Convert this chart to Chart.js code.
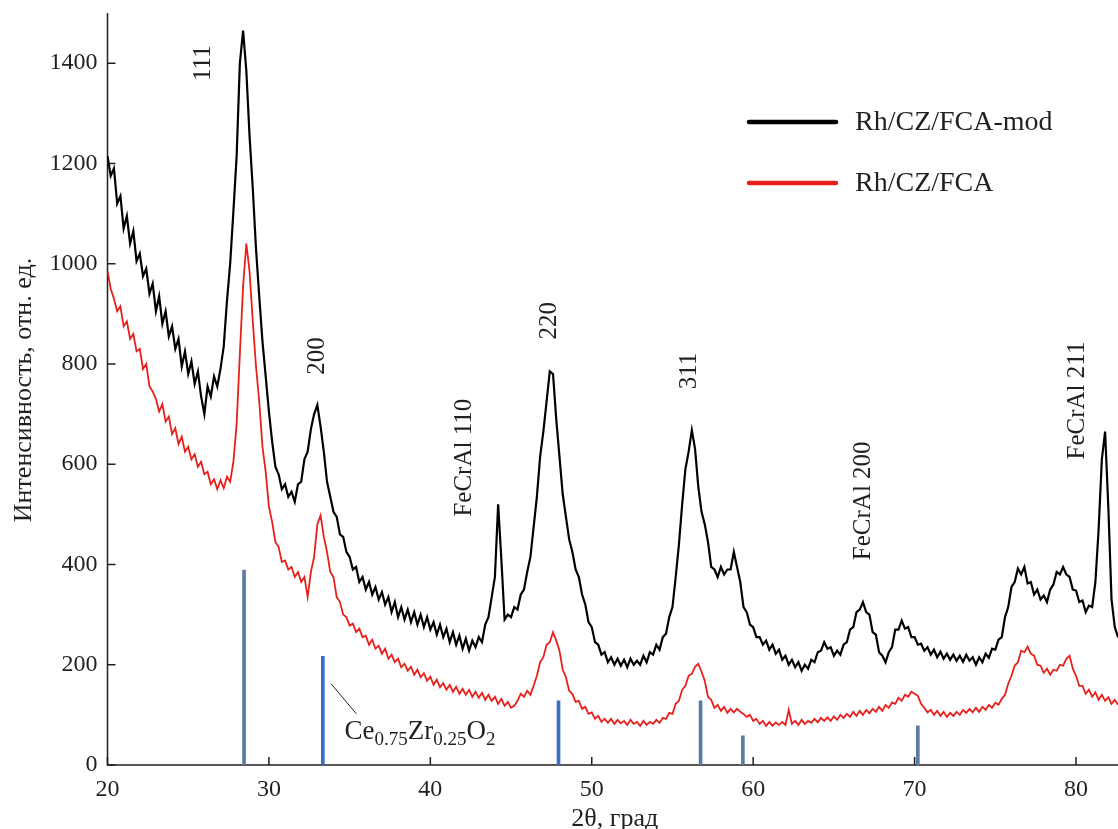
<!DOCTYPE html>
<html>
<head>
<meta charset="utf-8">
<title>XRD Rh/CZ/FCA</title>
<script src="https://cdn.jsdelivr.net/npm/chart.js@4.4.1/dist/chart.umd.min.js"></script>
<style>
  html, body { margin: 0; padding: 0; background: #fff; }
  #wrap { width: 1118px; height: 829px; }
</style>
</head>
<body>
<div id="wrap"><canvas id="xrdChart" width="1118" height="829"></canvas></div>
<script>
// 2θ grid of the digitised patterns (degrees)
const thetaStart = 20;
const thetaStep = 0.2;

// Rh/CZ/FCA-mod intensity, one value per 0.2 deg from 20.0 to 82.6
const modCounts = [
  1215, 1175, 1190, 1120, 1135, 1070, 1095, 1040, 1065, 1005,
  1020, 975, 990, 940, 960, 905, 935, 880, 905, 855,
  875, 830, 850, 795, 825, 780, 805, 760, 785, 735,
  700, 755, 735, 775, 755, 790, 835, 925, 1000, 1105,
  1215, 1400, 1465, 1385, 1255, 1150, 1030, 935, 845, 775,
  705, 645, 595, 580, 550, 560, 535, 545, 525, 560,
  565, 610, 625, 670, 700, 718, 675, 625, 565, 535,
  505, 495, 460, 455, 425, 415, 390, 395, 365, 375,
  350, 365, 340, 355, 330, 345, 320, 335, 305, 325,
  295, 315, 290, 310, 285, 305, 280, 300, 275, 295,
  270, 285, 260, 280, 255, 272, 245, 265, 240, 258,
  232, 252, 228, 248, 235, 255, 245, 280, 295, 335,
  375, 520, 410, 290, 300, 295, 315, 310, 340, 350,
  385, 415, 475, 535, 615, 665, 725, 785, 780, 690,
  615, 540, 495, 450, 425, 390, 375, 340, 320, 285,
  275, 245, 240, 220, 225, 205, 215, 200, 212, 198,
  210, 195, 212, 200, 208, 200, 218, 205, 225, 220,
  240, 230, 255, 262, 295, 315, 375, 440, 520, 590,
  625, 668, 630, 555, 505, 480, 445, 395, 390, 375,
  395, 380, 390, 390, 425, 395, 365, 315, 305, 280,
  275, 255, 255, 240, 248, 230, 240, 222, 230, 210,
  218, 200, 210, 195, 205, 188, 200, 192, 210, 205,
  225, 228, 245, 232, 235, 218, 228, 220, 240, 245,
  270, 275, 305, 310, 325, 305, 300, 265, 260, 225,
  218, 205, 225, 235, 270, 270, 288, 272, 275, 255,
  255, 240, 242, 228, 235, 220, 230, 215, 226, 212,
  222, 210, 220, 208, 218, 206, 220, 208, 215, 200,
  215, 205, 222, 214, 232, 230, 250, 255, 295, 315,
  355, 365, 392, 380, 395, 362, 365, 340, 350, 330,
  338, 325, 350, 360, 385, 380, 395, 380, 375, 350,
  348, 325, 328, 305, 318, 315, 365, 470, 610, 665,
  515, 330, 275, 255
];

// Rh/CZ/FCA intensity, same grid
const baseCounts = [
  985, 950, 930, 905, 915, 875, 885, 850, 860, 825,
  830, 790, 800, 755, 745, 730, 705, 720, 685, 695,
  660, 672, 640, 655, 625, 635, 610, 620, 595, 605,
  580, 585, 560, 570, 550, 568, 552, 575, 565, 605,
  680, 820, 955, 1040, 985, 885, 795, 725, 635, 585,
  515, 485, 445, 435, 405, 408, 390, 395, 375, 385,
  365, 375, 335, 385, 415, 480, 498, 455, 425, 385,
  375, 335, 325, 300, 295, 278, 282, 265, 272, 255,
  258, 240, 250, 232, 238, 222, 232, 212, 220, 205,
  212, 195, 202, 188, 196, 180, 190, 175, 183, 168,
  176, 160, 170, 155, 163, 150, 160, 146, 156, 142,
  152, 140, 150, 136, 146, 134, 144, 130, 140, 128,
  136, 122, 132, 118, 126, 114, 118, 128, 142, 136,
  148, 140, 158, 178, 205, 215, 240, 245, 265, 248,
  228, 190, 175, 148, 142, 126, 128, 112, 116, 102,
  105, 92, 98, 86, 92, 84, 92, 82, 90, 83,
  88, 80, 90, 82, 86, 78, 88, 80, 86, 82,
  90, 84, 94, 92, 104, 102, 122, 128, 150, 158,
  178, 182, 196, 202, 186, 168, 136, 130, 114, 120,
  108, 116, 104, 112, 105, 112, 106, 102, 96, 100,
  88, 92, 82, 88, 78, 86, 78, 85, 80, 86,
  80, 110, 82, 88, 80, 90, 82, 88, 84, 92,
  85, 94, 88, 95, 88, 97, 90, 100, 94, 102,
  96, 106, 98, 108, 100, 110, 103, 112, 106, 116,
  108, 120, 114, 125, 122, 134, 128, 140, 136, 146,
  142, 138, 122, 114, 105, 110, 100, 108, 98, 106,
  96, 104, 98, 106, 100, 110, 104, 112, 105, 114,
  106, 116, 110, 120, 114, 124, 120, 132, 140, 162,
  178, 198, 205, 228, 225, 236, 222, 218, 200, 198,
  184, 192, 180, 190, 188, 200, 198, 212, 218, 192,
  178, 158, 158, 142, 150, 136, 145, 130, 140, 128,
  135, 122, 130, 120
];

// Ce0.75Zr0.25O2 reference lines
const refPositions = [28.46, 33.34, 47.94, 56.74, 59.36, 70.2];
const refHeights = [389, 217, 128, 128, 58, 78];

// peak labels (angle, intensity of label centre)
const peakNames = ['111', '200', 'FeCrAl 110', '220', '311', 'FeCrAl 200', 'FeCrAl 211'];
const peakNameX = [25.95, 33.0, 42.1, 47.4, 56.06, 66.84, 80.1];
const peakNameY = [1400, 816, 613, 886, 786, 527, 727];

// axis ticks
const xTicks = [20, 30, 40, 50, 60, 70, 80];
const yTicks = [0, 200, 400, 600, 800, 1000, 1200, 1400];

const seriesNames = ['Rh/CZ/FCA-mod', 'Rh/CZ/FCA'];

const INK = '#231f20';
const SERIF = '"Liberation Serif", "Times New Roman", serif';

function toPoints(counts) {
    return counts.map((v, i) => ({ x: +(thetaStart + i * thetaStep).toFixed(1), y: v }));
}

// Draws axes, inward ticks, peak labels, phase annotation, legend and titles
const xrdDecor = {
    id: 'xrdDecor',
    beforeDatasetsDraw(chart) {
        const { ctx, chartArea: a, scales: { x, y } } = chart;
        ctx.save();
        ctx.strokeStyle = INK;
        ctx.lineWidth = 1.5;
        ctx.beginPath();
        ctx.moveTo(a.left, a.top);
        ctx.lineTo(a.left, a.bottom);
        ctx.lineTo(a.right, a.bottom);
        ctx.stroke();

        ctx.beginPath();
        yTicks.forEach(v => {
            const py = y.getPixelForValue(v);
            ctx.moveTo(a.left, py);
            ctx.lineTo(a.left + 8, py);
        });
        xTicks.forEach(v => {
            const px = x.getPixelForValue(v);
            ctx.moveTo(px, a.bottom);
            ctx.lineTo(px, a.bottom - 8);
        });
        ctx.stroke();
        ctx.restore();
    },
    afterDraw(chart) {
        const { ctx, chartArea: a, scales: { x, y } } = chart;
        ctx.save();
        ctx.fillStyle = INK;

        // rotated peak labels
        ctx.font = '25px ' + SERIF;
        ctx.textAlign = 'center';
        ctx.textBaseline = 'middle';
        peakNames.forEach((name, i) => {
            ctx.save();
            ctx.translate(x.getPixelForValue(peakNameX[i]), y.getPixelForValue(peakNameY[i]));
            ctx.rotate(-Math.PI / 2);
            ctx.fillText(name, 0, 0);
            ctx.restore();
        });

        // Ce0.75Zr0.25O2 leader line and label
        ctx.strokeStyle = INK;
        ctx.lineWidth = 1;
        ctx.beginPath();
        ctx.moveTo(x.getPixelForValue(33.85), y.getPixelForValue(162));
        ctx.lineTo(x.getPixelForValue(35.42), y.getPixelForValue(102));
        ctx.stroke();

        const parts = [['Ce', 0], ['0.75', 1], ['Zr', 0], ['0.25', 1], ['O', 0], ['2', 1]];
        let tx = x.getPixelForValue(34.68);
        const base = y.getPixelForValue(52);
        ctx.textAlign = 'left';
        ctx.textBaseline = 'alphabetic';
        parts.forEach(([txt, sub]) => {
            ctx.font = (sub ? '19px ' : '27px ') + SERIF;
            ctx.fillText(txt, tx, sub ? base + 6 : base);
            tx += ctx.measureText(txt).width;
        });

        // legend
        const lineSets = chart.data.datasets.filter(d => d.type === 'line');
        ctx.font = '28px ' + SERIF;
        lineSets.forEach((ds, i) => {
            const ly = 122 + i * 61;
            ctx.strokeStyle = ds.borderColor;
            ctx.lineWidth = 4.5;
            ctx.lineCap = 'round';
            ctx.beginPath();
            ctx.moveTo(749, ly);
            ctx.lineTo(836, ly);
            ctx.stroke();
            ctx.fillStyle = INK;
            ctx.fillText(ds.label, 855, ly + 8);
        });

        // axis titles
        ctx.font = '26px ' + SERIF;
        ctx.textAlign = 'center';
        ctx.fillText('2θ, град', (a.left + a.right) / 2 + 2, 826);
        ctx.save();
        ctx.translate(31, 390);
        ctx.rotate(-Math.PI / 2);
        ctx.fillText('Интенсивность, отн. ед.', 0, 0);
        ctx.restore();

        ctx.restore();
    }
};

const ctx = document.getElementById('xrdChart').getContext('2d');
window.xrdChart = new Chart(ctx, {
    type: 'line',
    data: {
        datasets: [{
            type: 'line',
            label: seriesNames[0],
            data: toPoints(modCounts),
            borderColor: '#000000',
            borderWidth: 2.2,
            pointRadius: 0,
            tension: 0,
            order: 2
        }, {
            type: 'line',
            label: seriesNames[1],
            data: toPoints(baseCounts),
            borderColor: '#e8201c',
            borderWidth: 1.8,
            pointRadius: 0,
            tension: 0,
            order: 3
        }, {
            type: 'bar',
            label: 'Ce0.75Zr0.25O2',
            data: refPositions.map((p, i) => ({ x: p, y: refHeights[i] })),
            backgroundColor: ['#5b7ba3', '#3a6ec2', '#3a6ec2', '#5b7ba3', '#5b7ba3', '#5b7ba3'],
            barThickness: 3,
            order: 1
        }]
    },
    options: {
        responsive: false,
        animation: false,
        events: [],
        layout: { padding: { top: 13, right: 0, left: 0, bottom: 0 } },
        plugins: {
            legend: { display: false },
            tooltip: { enabled: false }
        },
        scales: {
            x: {
                type: 'linear',
                min: 20,
                max: 82.6,
                offset: false,
                grid: { display: false, drawTicks: false },
                border: { display: false },
                ticks: {
                    stepSize: 10,
                    includeBounds: false,
                    padding: 10,
                    color: INK,
                    font: { family: SERIF, size: 24 },
                    maxRotation: 0,
                    callback: value => String(value)
                },
                afterBuildTicks: scale => {
                    scale.ticks = scale.ticks.filter(t => xTicks.includes(t.value));
                },
                afterFit: scale => {
                    scale.height = 64;
                    scale.paddingLeft = 0;
                    scale.paddingRight = 0;
                }
            },
            y: {
                min: 0,
                max: 1500,
                grid: { display: false, drawTicks: false },
                border: { display: false },
                ticks: {
                    stepSize: 200,
                    includeBounds: false,
                    padding: 10,
                    color: INK,
                    font: { family: SERIF, size: 24 },
                    callback: value => String(value)
                },
                afterBuildTicks: scale => {
                    scale.ticks = scale.ticks.filter(t => yTicks.includes(t.value));
                },
                afterFit: scale => {
                    scale.width = 107.5;
                    scale.paddingTop = 0;
                    scale.paddingBottom = 0;
                }
            }
        }
    },
    plugins: [xrdDecor]
});
</script>
</body>
</html>
